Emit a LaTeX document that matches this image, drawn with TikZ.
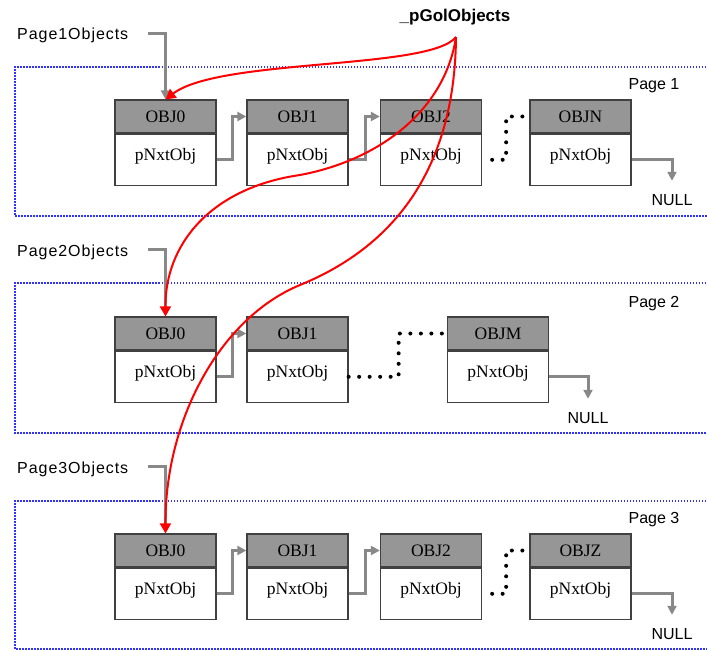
\documentclass[tikz,border=0pt]{standalone}
\usepackage{fontspec}
\setmainfont{Liberation Serif}
\newfontfamily\sflbl{Liberation Sans}
\newfontfamily\sflblw[LetterSpace=6]{Liberation Sans}
\usetikzlibrary{arrows.meta}
\definecolor{boxc}{RGB}{64,64,64}
\definecolor{hdrc}{RGB}{150,150,150}
\definecolor{garc}{RGB}{136,136,136}
\definecolor{pagec}{RGB}{50,50,255}
\definecolor{redc}{RGB}{255,0,0}
\begin{document}
\begin{tikzpicture}[x=1pt,y=-1pt,
  hdr/.style={draw=boxc, fill=hdrc, line width=1.3pt, minimum width=101pt, minimum height=33pt, inner sep=0pt, font=\fontsize{17.5}{20}\selectfont},
  bdy/.style={draw=boxc, fill=white, line width=1.3pt, minimum width=101pt, minimum height=51pt, inner sep=0pt, text height=12pt, text depth=11pt, font=\fontsize{17.5}{20}\selectfont, anchor=north},
  lbl/.style={inner sep=0pt, font=\sflbl\fontsize{16}{19}\selectfont},
  headlbl/.style={inner sep=0pt, font=\sflblw\fontsize{16}{19}\selectfont, anchor=base west},
  nul/.style={lbl, anchor=base, inner ysep=13pt},
  garr/.style={draw=garc, line width=3pt, -{Triangle[length=9pt,width=9pt]}},
  rarr/.style={draw=redc, line width=2pt, -{Triangle[length=10pt,width=11pt]}},
  dotln/.style={draw=black, line width=4pt, line cap=round, dash pattern=on 0pt off 10.5pt},
  pagebox/.style={draw=pagec, line width=2pt, dash pattern=on 1.5pt off 1.5pt}]
\useasboundingbox (0,0) rectangle (707,650);

% page frames
\draw[pagebox] (712,67) -- (15,67) -- (15,216) -- (712,216);
\draw[pagebox] (712,283) -- (15,283) -- (15,433) -- (712,433);
\draw[pagebox] (712,501) -- (15,501) -- (15,649) -- (712,649);

\node[lbl, anchor=base] (pg1) at (654,90) {Page 1};
\node[lbl, anchor=base] (pg2) at (654,307) {Page 2};
\node[lbl, anchor=base] (pg3) at (654,523) {Page 3};

% page 1 objects
\node[hdr] (a0) at (165.5,116.5) {OBJ0};
\node[bdy] (a0b) at (a0.south) {pNxtObj};
\node[hdr] (a1) at (297.5,116.5) {OBJ1};
\node[bdy] (a1b) at (a1.south) {pNxtObj};
\node[hdr] (a2) at (431,116.5) {OBJ2};
\node[bdy] (a2b) at (a2.south) {pNxtObj};
\node[hdr] (aN) at (580.5,116.5) {OBJN};
\node[bdy] (aNb) at (aN.south) {pNxtObj};

% page 2 objects
\node[hdr] (b0) at (165.5,333.5) {OBJ0};
\node[bdy] (b0b) at (b0.south) {pNxtObj};
\node[hdr] (b1) at (297.5,333.5) {OBJ1};
\node[bdy] (b1b) at (b1.south) {pNxtObj};
\node[hdr] (bM) at (498,333.5) {OBJM};
\node[bdy] (bMb) at (bM.south) {pNxtObj};

% page 3 objects
\node[hdr] (c0) at (165.5,550.5) {OBJ0};
\node[bdy] (c0b) at (c0.south) {pNxtObj};
\node[hdr] (c1) at (297.5,550.5) {OBJ1};
\node[bdy] (c1b) at (c1.south) {pNxtObj};
\node[hdr] (c2) at (431,550.5) {OBJ2};
\node[bdy] (c2b) at (c2.south) {pNxtObj};
\node[hdr] (cZ) at (580.5,550.5) {OBJZ};
\node[bdy] (cZb) at (cZ.south) {pNxtObj};

% NULL labels
\node[nul] (n1) at (672,205) {NULL};
\node[nul] (n2) at (588,423) {NULL};
\node[nul] (n3) at (672,639) {NULL};

% list head labels
\node[headlbl] (l1) at (17,40) {Page1Objects};
\node[headlbl] (l2) at (17,256) {Page2Objects};
\node[headlbl] (l3) at (17,473) {Page3Objects};

\node[inner sep=0pt, anchor=base, font=\sflbl\bfseries\fontsize{17}{20}\selectfont] (gol) at (455,22) {\_pGolObjects};
\coordinate (hub) at (456,37);

% gray links
\draw[garr] ([shift={(20pt,2pt)}]l1.east) -| (a0.north);
\draw[garr] ([shift={(20pt,2pt)}]l2.east) -| (b0.north);
\draw[garr] ([shift={(20pt,2pt)}]l3.east) -| (c0.north);

\draw[garr] (a0b.east) -- ++(15.5,0) |- (a1.west);
\draw[garr] (a1b.east) -- ++(16.5,0) |- (a2.west);
\draw[garr] (aNb.east) -| (n1.north);
\draw[garr] (b0b.east) -- ++(15.5,0) |- (b1.west);
\draw[garr] (bMb.east) -| (n2.north);
\draw[garr] (c0b.east) -- ++(15.5,0) |- (c1.west);
\draw[garr] (c1b.east) -- ++(16.5,0) |- (c2.west);
\draw[garr] (cZb.east) -| (n3.north);

% dotted gaps
\draw[dotln, dash phase=0.5pt] (a2b.east) -- ++(24,0) |- (aN.west);
\draw[dotln] (b1b.east) -- ++(50,0) |- (bM.west);
\draw[dotln, dash phase=0.5pt] (c2b.east) -- ++(24,0) |- (cZ.west);

% red pointers
\draw[rarr] (hub) .. controls (430,70) and (220,58) .. (a0.north);
\draw[rarr] (hub) .. controls (445,110) and (380,160) .. (300,175) .. controls (210,188) and (165,245) .. (b0.north);
\draw[rarr] (hub) .. controls (455,150) and (410,240) .. (300,285) .. controls (220,318) and (165,420) .. (c0.north);
\end{tikzpicture}
\end{document}
